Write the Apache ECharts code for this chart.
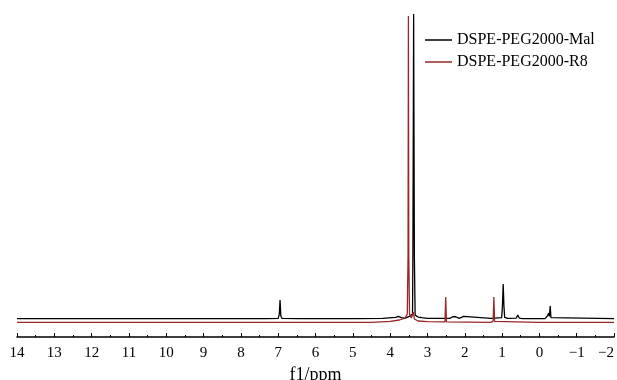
<!DOCTYPE html>
<html>
<head>
<meta charset="utf-8">
<script src="https://cdn.jsdelivr.net/npm/echarts@6/dist/echarts.min.js"></script>
<style>
  html, body { margin: 0; padding: 0; background: #fff; }
  #chart { width: 617px; height: 380px; }
</style>
</head>
<body>
<div id="chart"></div>
<script>
// chemical shift (ppm) / intensity pairs
const seriesNames = ['DSPE-PEG2000-Mal', 'DSPE-PEG2000-R8'];

const malPoints = [
  [14, 1.1], [7.3, 1.1], [7.0, 1.2], [6.97, 2.5], [6.95, 6.8], [6.93, 2], [6.9, 1.2],
  [6.45, 1.1], [6.41, 1.5], [6.37, 1.1], [4.9, 1.1], [4.2, 1.2], [3.85, 1.5], [3.78, 1.8],
  [3.7, 1.4], [3.6, 1.3], [3.55, 1.2], [3.5, 1.7], [3.45, 1.4], [3.4, 2.5], [3.39, 20],
  [3.37, 94.3], [3.35, 20], [3.33, 2.2], [3.25, 1.6], [3.15, 1.4], [3.0, 1.2],
  [2.4, 1.2], [2.32, 1.7], [2.28, 1.4], [2.24, 1.7], [2.15, 1.2], [2.03, 1.8], [1.98, 1.2],
  [1.3, 1.2], [1.01, 1.4], [0.99, 5], [0.97, 11.7], [0.95, 5], [0.93, 1.5], [0.85, 1.2],
  [0.62, 1.3], [0.58, 2.2], [0.54, 1.3], [0.45, 1.1], [-0.15, 1.1], [-0.22, 2.0],
  [-0.25, 2.8], [-0.27, 1.8], [-0.29, 5.0], [-0.31, 1.4], [-0.34, 1.1], [-2, 1.1]
];

const r8Points = [
  [14, 0], [4.5, 0], [4.0, 0.3], [3.75, 0.7], [3.6, 1.3], [3.54, 2.5], [3.52, 20],
  [3.51, 93.7], [3.5, 20], [3.48, 2.5], [3.43, 1.3], [3.38, 3.1], [3.35, 1.0], [3.25, 0.4],
  [3.0, 0.2], [2.53, 0.1], [2.51, 7.7], [2.49, 0.1], [1.3, 0], [1.24, 0.3], [1.22, 7.7],
  [1.2, 0.3], [1.15, 0], [0.02, 0], [0.0, -0.4], [-0.02, 0], [-2, 0]
];

const chart = echarts.init(document.getElementById('chart'));

const option = {
  animation: false,
  grid: { left: 17, right: 3, top: 10, bottom: 43, outerBoundsMode: 'none', containLabel: false },
  legend: {
    orient: 'vertical',
    left: 420,
    top: 27,
    icon: 'rect',
    itemWidth: 27,
    itemHeight: 1.5,
    itemGap: 6,
    textStyle: { fontFamily: 'Liberation Serif', fontSize: 16, color: '#000' },
    data: seriesNames
  },
  xAxis: {
    type: 'value',
    inverse: true,
    min: -2,
    max: 14,
    interval: 1,
    name: 'f1/ppm',
    nameLocation: 'middle',
    nameGap: 21,
    nameTextStyle: { fontFamily: 'Liberation Serif', fontSize: 18, color: '#000' },
    axisLine: { onZero: false, lineStyle: { color: '#000', width: 1.5 } },
    axisTick: { inside: true, length: 4, lineStyle: { color: '#000' } },
    minorTick: { show: true, splitNumber: 2, length: 2, lineStyle: { color: '#000' } },
    axisLabel: {
      margin: 9,
      fontFamily: 'Liberation Serif',
      fontSize: 15,
      color: '#000',
      alignMinLabel: 'right',
      formatter: (v) => String(v).replace('-', '\u2212')
    },
    splitLine: { show: false }
  },
  yAxis: {
    type: 'value',
    min: -4.5,
    max: 95.5,
    show: false
  },
  series: [
    {
      name: seriesNames[0],
      type: 'line',
      data: malPoints,
      symbol: 'none',
      lineStyle: { color: '#000', width: 1.3 },
      itemStyle: { color: '#000' }
    },
    {
      name: seriesNames[1],
      type: 'line',
      data: r8Points,
      symbol: 'none',
      lineStyle: { color: '#9a2626', width: 1.3 },
      itemStyle: { color: '#9a2626' }
    }
  ]
};

chart.setOption(option);
</script>
</body>
</html>
